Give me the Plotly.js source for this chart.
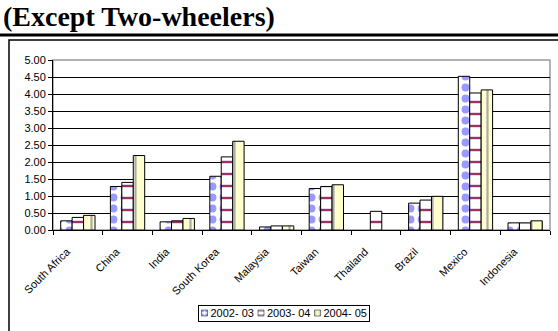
<!DOCTYPE html>
<html>
<head>
<meta charset="utf-8">
<script src="https://cdn.plot.ly/plotly-3.0.1.min.js"></script>
<style>
html,body{margin:0;padding:0;background:#fff;}
#chart{width:558px;height:331px;}
</style>
</head>
<body>
<div id="chart"></div>
<script>
const countries = ["South Africa","China","India","South Korea","Malaysia","Taiwan","Thailand","Brazil","Mexico","Indonesia"];
const s2002 = [0.27, 1.28, 0.24, 1.58, 0.09, 1.22, null, 0.79, 4.52, 0.21];
const s2003 = [0.37, 1.40, 0.27, 2.15, 0.12, 1.28, 0.55, 0.88, 4.03, 0.21];
const s2004 = [0.43, 2.19, 0.34, 2.61, 0.12, 1.33, null, 0.99, 4.12, 0.27];
const seriesNames = ["2002- 03","2003- 04","2004- 05"];
const yTicks = [0,0.5,1,1.5,2,2.5,3,3.5,4,4.5,5];

const W = 558, H = 331, L = 53, R = 8, T = 60, B = 101;
const pw = W - L - R, ph = H - T - B;
const px = v => (v - L) / pw;
const py = v => (H - B - v) / ph;

const traces = [
  {name: seriesNames[0], y: s2002, pattern: {shape: ".", fgcolor: "#9999FF", bgcolor: "#FFFFFF", size: 11, solidity: 0.4}},
  {name: seriesNames[1], y: s2003, pattern: {shape: "-", fgcolor: "#993366", bgcolor: "#FFFFFF", size: 12, solidity: 0.2}},
  {name: seriesNames[2], y: s2004, pattern: {shape: "|", fgcolor: "#AAAAAA", bgcolor: "#FFFFCC", size: 11, solidity: 0.2}}
].map(t => ({
  type: "bar", x: countries, y: t.y, name: t.name,
  marker: {color: t.pattern.bgcolor, line: {color: "#000", width: 1}, pattern: t.pattern},
  hoverinfo: "x+y+name"
}));

const layout = {
  width: W, height: H,
  margin: {l: L, r: R, t: T, b: B, pad: 0},
  paper_bgcolor: "#fff", plot_bgcolor: "#fff",
  font: {family: "Liberation Sans, Arial, sans-serif", size: 11, color: "#000"},
  barmode: "group", bargap: 0.31, bargroupgap: 0,
  showlegend: true,
  legend: {orientation: "h", xref: "container", yref: "container", x: 283 / W, xanchor: "center",
    y: 1 - 305 / H, yanchor: "top",
    bordercolor: "#000", borderwidth: 1, bgcolor: "#fff", font: {size: 11},
    itemwidth: 30, tracegroupgap: 0},
  xaxis: {type: "category", tickangle: -45, tickson: "boundaries", ticks: "outside", ticklen: 4,
    tickcolor: "#000", showline: true, linecolor: "#000", linewidth: 1, showgrid: false,
    tickfont: {size: 11}, fixedrange: true, automargin: false,
    ticklabelshift: -11, ticklabelstandoff: 10},
  yaxis: {range: [0, 5], tickvals: yTicks, tickformat: ".2f", ticks: "outside", ticklen: 4,
    tickcolor: "#000", showline: true, linecolor: "#000", linewidth: 1, showgrid: true,
    gridcolor: "#000", gridwidth: 1, zeroline: false, tickfont: {size: 11}, fixedrange: true,
    automargin: false},
  annotations: [{
    text: "<b>(Except Two-wheelers)</b>", xref: "paper", yref: "paper",
    x: px(1), y: py(-1), xanchor: "left", yanchor: "top", showarrow: false,
    font: {family: "Liberation Serif, Times New Roman, serif", size: 28, color: "#000"}
  }],
  shapes: [
    {type: "line", xref: "paper", yref: "paper", x0: px(0), x1: px(W), y0: py(35), y1: py(35),
      line: {color: "#000", width: 3}},
    {type: "rect", xref: "paper", yref: "paper", x0: px(9), x1: px(W + 5), y0: py(40), y1: py(H + 5),
      line: {color: "#000", width: 1.5}, layer: "below"},
    {type: "rect", xref: "paper", yref: "paper", x0: 0, x1: 1, y0: 0, y1: 1,
      line: {color: "#999", width: 1.5}, layer: "below"}
  ]
};

Plotly.newPlot("chart", traces, layout, {displayModeBar: false, staticPlot: true}).then(gd => {
  // compact the legend to resemble the original Excel legend
  const leg = gd.querySelector(".legend");
  if (!leg) return;
  const itemW = 56.5, boxW = 171, boxH = 16;
  const items = leg.querySelectorAll("g.traces");
  items.forEach((g, i) => {
    g.setAttribute("transform", `translate(${2 + i * itemW},${boxH / 2})`);
    const txt = g.querySelector("text.legendtext");
    if (txt) txt.setAttribute("x", 11);
    g.querySelectorAll(".legendpoints path").forEach(p => p.setAttribute("transform", "translate(5,0) scale(0.5)"));
  });
  const bg = leg.querySelector("rect.bg");
  if (bg) { bg.setAttribute("width", boxW); bg.setAttribute("height", boxH); }
  leg.setAttribute("transform", `translate(${283 - boxW / 2},305)`);
});
</script>
</body>
</html>
